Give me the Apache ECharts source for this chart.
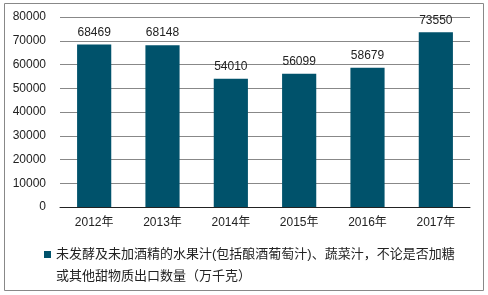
<!DOCTYPE html>
<html><head><meta charset="utf-8">
<script src="https://cdn.jsdelivr.net/npm/echarts@6/dist/echarts.min.js"></script>
<style>html,body{margin:0;padding:0;background:#fff}#c{width:488px;height:295px}</style>
</head><body><div id="c"></div>
<script>
const categories = ['2012年','2013年','2014年','2015年','2016年','2017年'];
const values = [68469, 68148, 54010, 56099, 58679, 73550];
const yTicks = [0, 10000, 20000, 30000, 40000, 50000, 60000, 70000, 80000];
const seriesName = '未发酵及未加酒精的水果汁(包括酿酒葡萄汁)、蔬菜汁，不论是否加糖或其他甜物质出口数量（万千克）';
const font = '"Liberation Sans", Arial, "Noto Sans CJK SC", sans-serif';
const chart = echarts.init(document.getElementById('c'), null, {renderer: 'canvas'});
chart.setOption({
  animation: false,
  textStyle: {fontFamily: font},
  graphic: [{type: 'rect', shape: {x: 4.5, y: 3.5, width: 479, height: 287}, style: {fill: 'none', stroke: '#888', lineWidth: 1}, silent: true}],
  grid: {left: 60, right: 18, top: 17, bottom: 88, containLabel: false},
  legend: {
    left: 39, top: 238, itemWidth: 7, itemHeight: 29, itemGap: 3,
    icon: 'path://M0,0L10,0L10,10L0,10Z M0,40L0.001,40L0.001,40.001Z',
    textStyle: {fontSize: 13, color: '#222', lineHeight: 22, fontFamily: font},
    formatter: function (n) { return n.replace('加糖或', '加糖\n或'); },
    data: [seriesName]
  },
  xAxis: {
    type: 'category', data: categories,
    axisLine: {lineStyle: {color: '#222'}}, axisTick: {show: false},
    axisLabel: {color: '#222', fontSize: 12, margin: 10}
  },
  yAxis: {
    type: 'value', min: yTicks[0], max: yTicks[yTicks.length - 1], interval: 10000,
    axisLine: {show: false}, axisTick: {show: false},
    axisLabel: {color: '#222', fontSize: 12, margin: 14, formatter: function (v) { return String(v); }},
    splitLine: {lineStyle: {color: '#888'}}
  },
  series: [{
    name: seriesName, type: 'bar', data: values, barWidth: '50%',
    itemStyle: {color: '#00526b'},
    label: {show: true, position: 'top', color: '#222', fontSize: 12, distance: 6}
  }]
});
</script></body></html>
